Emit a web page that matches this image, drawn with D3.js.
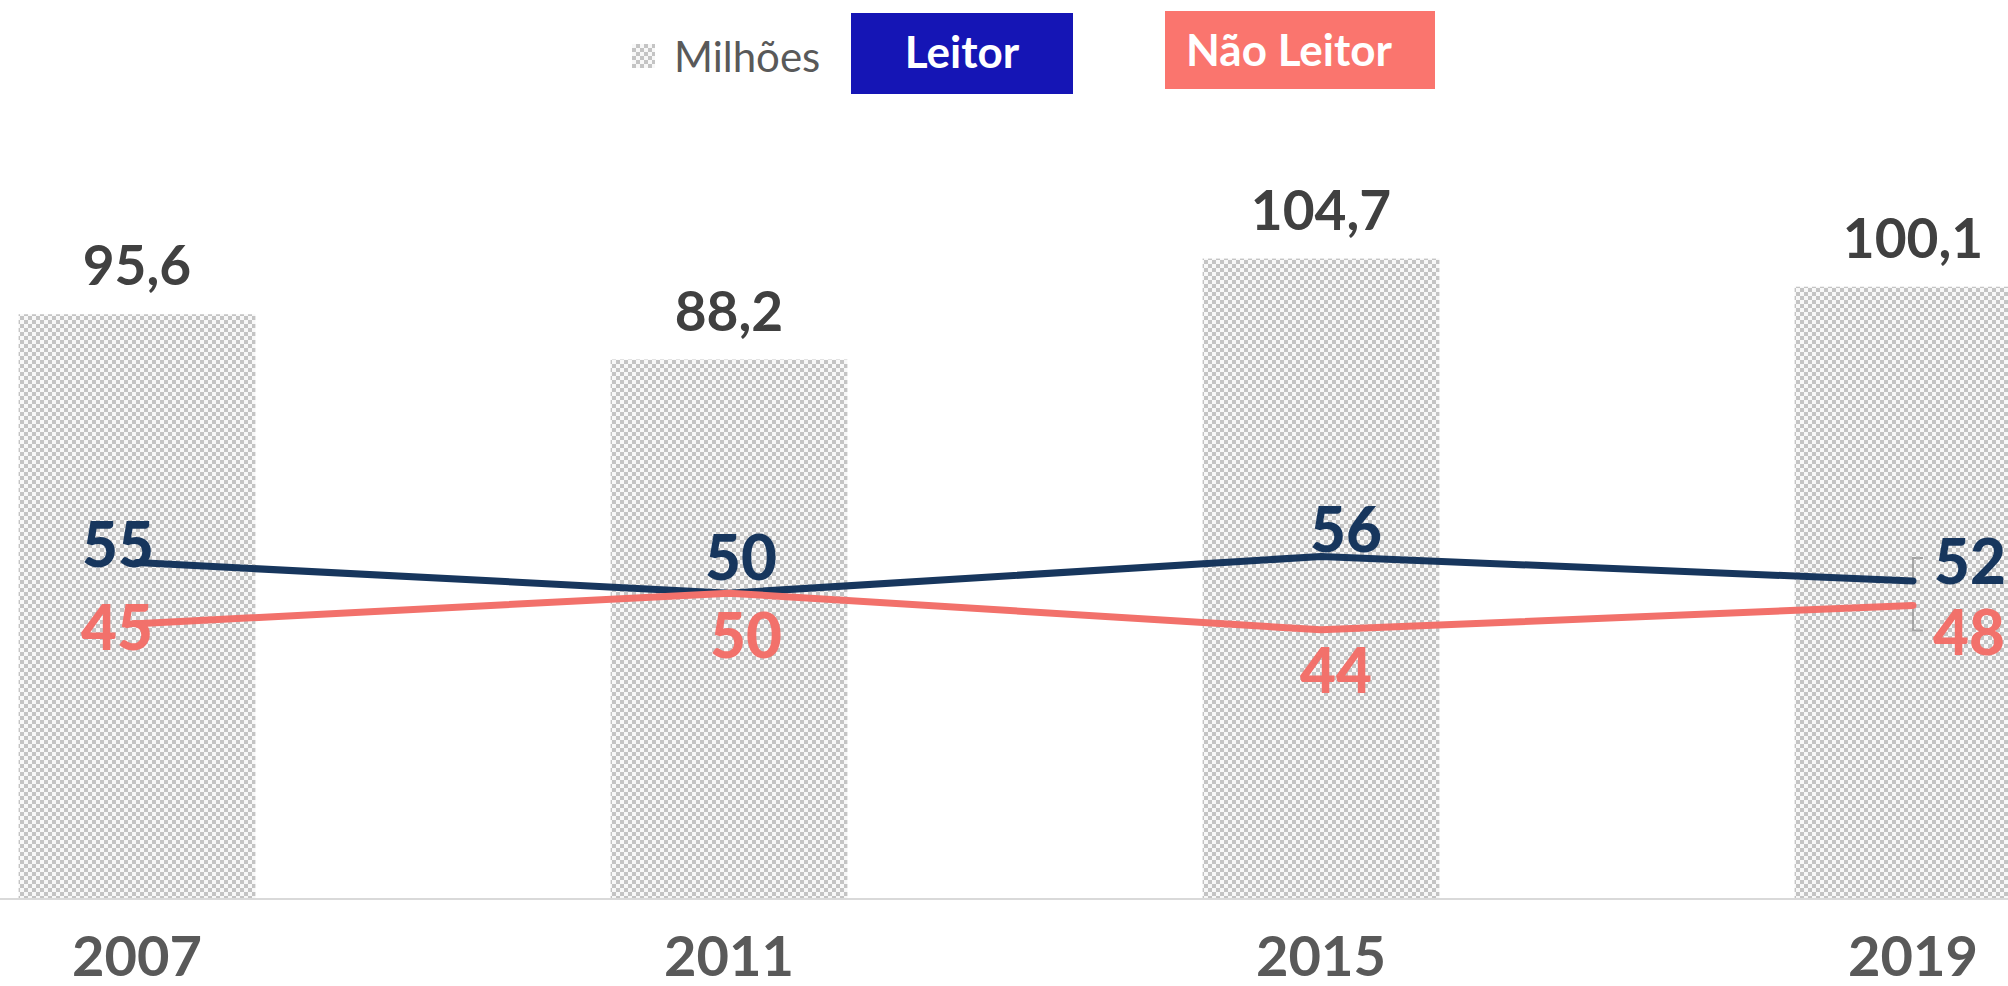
<!DOCTYPE html>
<html>
<head>
<meta charset="utf-8">
<script src="https://cdn.jsdelivr.net/npm/d3@7"></script>
<style>
  body { margin: 0; background: #fff; }
  svg { display: block; }
  text { font-family: Lato, "Open Sans", sans-serif; }
</style>
</head>
<body>
<div id="chart"></div>
<script>
// data
var anos = ["2007", "2011", "2015", "2019"];
var milhoes = [95.6, 88.2, 104.7, 100.1];
var leitor = [55, 50, 56, 52];
var naoLeitor = [45, 50, 44, 48];

// manual label nudges (dx, dy from the point)
var offLeitor = [[-19, 4], [12, -13], [25, -4], [57, 3]];
var offNao = [[-20, 26], [17, 65], [15, 63], [56, 50]];

(function(){
    var width = 2008;
    var height = 986;

    var svg = d3.select("#chart")
        .append("svg")
        .attr("width", width)
        .attr("height", height);

    var defs = svg.append("defs");
    var pat = defs.append("pattern")
        .attr("id", "xadrez")
        .attr("patternUnits", "userSpaceOnUse")
        .attr("width", 8)
        .attr("height", 8);
    pat.append("rect").attr("width", 8).attr("height", 8).attr("fill", "#f8f8f8");
    pat.append("rect").attr("width", 4).attr("height", 4).attr("fill", "#c4c4c4");
    pat.append("rect").attr("x", 4).attr("y", 4).attr("width", 4).attr("height", 4).attr("fill", "#c4c4c4");

    var x = d3.scaleBand()
        .domain(anos)
        .range([-159, 2209])
        .paddingInner(0.6)
        .paddingOuter(0.3);

    var y = d3.scaleLinear()
        .domain([0, 120])
        .range([899, 165]);

    var cx = function(i){ return x(anos[i]) + x.bandwidth() / 2; };

    // bars
    svg.selectAll(".bar")
        .data(milhoes)
        .enter().append("rect")
        .attr("class", "bar")
        .attr("x", function(d, i){ return x(anos[i]); })
        .attr("y", function(d){ return y(d); })
        .attr("width", x.bandwidth())
        .attr("height", function(d){ return y(0) - y(d); })
        .attr("fill", "url(#xadrez)");

    // baseline
    svg.append("line")
        .attr("x1", 0).attr("x2", width)
        .attr("y1", y(0)).attr("y2", y(0))
        .attr("stroke", "#d9d9d9")
        .attr("stroke-width", 2);

    // bar labels
    svg.selectAll(".barlabel")
        .data(milhoes)
        .enter().append("text")
        .attr("class", "barlabel")
        .attr("x", function(d, i){ return cx(i); })
        .attr("y", function(d){ return y(d) - 29; })
        .attr("text-anchor", "middle")
        .attr("font-size", 55)
        .attr("font-weight", "bold")
        .attr("fill", "#404040")
        .text(function(d){ return d.toFixed(1).replace(".", ","); });

    // x axis labels
    svg.selectAll(".ano")
        .data(anos)
        .enter().append("text")
        .attr("class", "ano")
        .attr("x", function(d, i){ return cx(i); })
        .attr("y", 976)
        .attr("text-anchor", "middle")
        .attr("font-size", 56)
        .attr("font-weight", "bold")
        .attr("fill", "#595959")
        .text(function(d){ return d; });

    // leader bracket at the last point
    var bx = cx(3);
    svg.append("path")
        .attr("d", "M" + (bx + 10) + "," + (y(leitor[3]) - 23) + "H" + bx + "V" + (y(leitor[3]) + 2) +
                   "M" + bx + "," + (y(naoLeitor[3]) - 2) + "V" + (y(naoLeitor[3]) + 25) + "H" + (bx + 10))
        .attr("fill", "none")
        .attr("stroke", "#a6a6a6")
        .attr("stroke-width", 2);

    var line = d3.line()
        .x(function(d, i){ return cx(i); })
        .y(function(d){ return y(d); });

    var series = [
        { vals: leitor, off: offLeitor, color: "#17365d" },
        { vals: naoLeitor, off: offNao, color: "#f2716b" }
    ];

    series.forEach(function(s){
        svg.append("path")
            .datum(s.vals)
            .attr("d", line)
            .attr("fill", "none")
            .attr("stroke", s.color)
            .attr("stroke-width", 7)
            .attr("stroke-linejoin", "round")
            .attr("stroke-linecap", "round");
    });

    series.forEach(function(s){
        svg.selectAll(null)
            .data(s.vals)
            .enter().append("text")
            .attr("x", function(d, i){ return cx(i) + s.off[i][0]; })
            .attr("y", function(d, i){ return y(d) + s.off[i][1]; })
            .attr("text-anchor", "middle")
            .attr("font-size", 62)
            .attr("font-weight", "900")
            .attr("fill", s.color)
            .text(function(d){ return d; });
    });

    // legend
    var lg = svg.append("g").attr("class", "legend");
    lg.append("rect")
        .attr("x", 632).attr("y", 44)
        .attr("width", 23).attr("height", 24)
        .attr("fill", "url(#xadrez)");
    lg.append("text")
        .attr("x", 674).attr("y", 72)
        .attr("font-size", 42)
        .attr("fill", "#595959")
        .text("Milhões");

    lg.append("rect")
        .attr("x", 851).attr("y", 13)
        .attr("width", 222).attr("height", 81)
        .attr("fill", "#1515b5");
    lg.append("text")
        .attr("x", 962).attr("y", 68)
        .attr("text-anchor", "middle")
        .attr("font-size", 44)
        .attr("font-weight", "bold")
        .attr("fill", "#fff")
        .text("Leitor");

    lg.append("rect")
        .attr("x", 1165).attr("y", 11)
        .attr("width", 270).attr("height", 78)
        .attr("fill", "#fa756e");
    lg.append("text")
        .attr("x", 1186).attr("y", 66)
        .attr("font-size", 44)
        .attr("font-weight", "bold")
        .attr("fill", "#fff")
        .text("Não Leitor");
})();
</script>
</body>
</html>
